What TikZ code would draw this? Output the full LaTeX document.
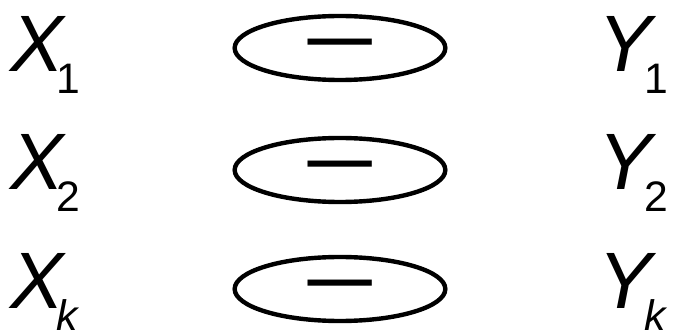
\documentclass[tikz,border=0pt]{standalone}
\usepackage{fontspec}
\setmainfont{Liberation Sans}
\usetikzlibrary{shapes.geometric}
\newcommand{\lowidx}[1]{\kern-5pt\raisebox{-16.5pt}{\fontsize{32}{32}\selectfont #1}}

\begin{document}
\begin{tikzpicture}[x=0.75pt, y=-0.75pt,
  var/.style={anchor=base west, inner sep=0pt, font=\fontsize{60}{64}\selectfont\itshape},
  oval/.style={draw, ellipse, line width=3.3pt, minimum width=158pt, minimum height=48pt, inner sep=0pt},
  minus/.style={anchor=base, inner sep=0pt, font=\fontsize{64}{64}\selectfont}
]
  \useasboundingbox (0,0) rectangle (676,335);

  % Entradas
  \node[var] (x1) at (10, 72)  {X\lowidx{\upshape 1}};
  \node[var] (x2) at (10, 190) {X\lowidx{\upshape 2}};
  \node[var] (xk) at (10, 309) {X\lowidx{k}};

  % Elipses com o sinal
  \node[oval] (o1) at (340, 48)  {};
  \node[oval] (o2) at (340, 170) {};
  \node[oval] (ok) at (340, 289) {};
  \node[minus] (m1) at ([yshift=-17pt]o1.center) {\scalebox{1.55}[1]{−}};
  \node[minus] (m2) at ([yshift=-17pt]o2.center) {\scalebox{1.55}[1]{−}};
  \node[minus] (mk) at ([yshift=-17pt]ok.center) {\scalebox{1.55}[1]{−}};

  % Saidas
  \node[var] (y1) at (598, 72)  {Y\lowidx{\upshape 1}};
  \node[var] (y2) at (598, 190) {Y\lowidx{\upshape 2}};
  \node[var] (yk) at (598, 309) {Y\lowidx{k}};
\end{tikzpicture}
\end{document}
